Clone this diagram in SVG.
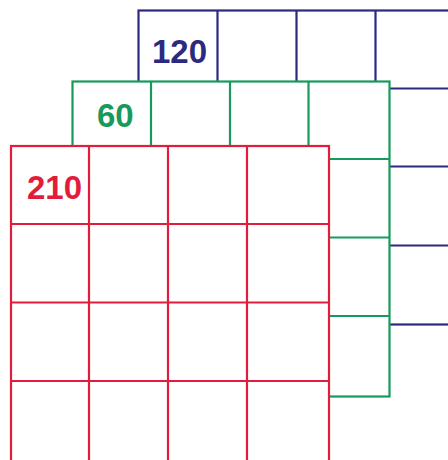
<svg xmlns="http://www.w3.org/2000/svg" width="448" height="460" viewBox="0 0 448 460">
  <style>
    .cell { fill: #ffffff; stroke-width: 2.2; stroke-linejoin: miter; }
    .blue { stroke: #2c2a80; }
    .green { stroke: #179a5c; }
    .red { stroke: #e31c3b; }
    .lbl { font-family: "Liberation Sans", Arial, sans-serif; font-weight: bold; font-size: 33px; }
  </style>
  <rect width="448" height="460" fill="#ffffff"/>
  <g id="grid-120">
    <rect class="cell blue" x="138.5" y="10.5" width="316" height="314"/>
    <path class="cell blue" fill="none" d="M217.5 10.5V324.5M296.5 10.5V324.5M375.5 10.5V324.5M138.5 88.5H455M138.5 166.5H455M138.5 245.5H455"/>
    <text class="lbl" x="152" y="63" fill="#2c2a80">120</text>
  </g>
  <g id="grid-60">
    <rect class="cell green" x="72.5" y="81.5" width="317" height="315"/>
    <path class="cell green" fill="none" d="M151 81.5V396.5M230 81.5V396.5M308.5 81.5V396.5M72.5 159H389.5M72.5 237.5H389.5M72.5 316H389.5"/>
    <text class="lbl" x="97" y="127" fill="#179a5c">60</text>
  </g>
  <g id="grid-210">
    <rect class="cell red" x="11" y="146" width="318" height="318"/>
    <path class="cell red" fill="none" d="M89 146V464M168 146V464M247 146V464M11 224H329M11 302.5H329M11 381H329"/>
    <text class="lbl" x="27" y="199" fill="#e31c3b">210</text>
  </g>
  <g id="connectors"/>
</svg>
